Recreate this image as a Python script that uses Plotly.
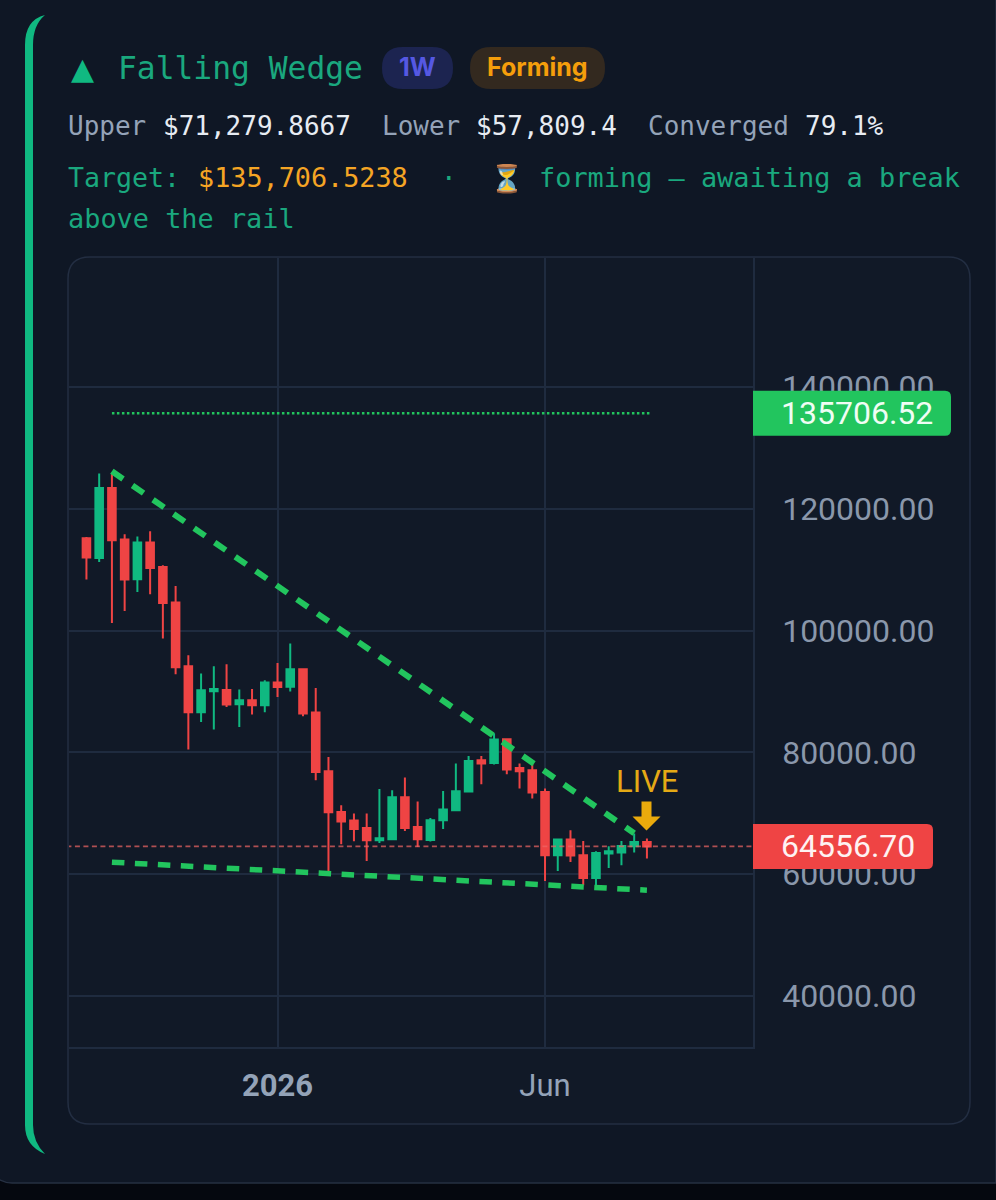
import pandas as pd
import plotly.graph_objects as go

# ---- data ----
dates = pd.date_range("2025-09-22", periods=45, freq="7D")
opens = [115170,111940,123430,114960,108440,114470,110460,104610,94150,86600,90050,90260,87910,88570,87750,91480,
         90800,93660,86550,76910,70230,68820,67600,65580,65750,72640,67770,65630,68870,70510,73580,78720,78280,82170,
         77450,77080,73510,63120,65700,63120,59390,63400,63560,64600,65300]
highs = [115385,125800,125800,115830,115450,116320,110740,107340,95960,92950,94150,94480,90330,90430,91850,94700,
         97880,93700,90590,79260,71330,69970,69970,74010,73790,75880,71940,69240,73680,78180,79420,79420,83150,82330,
         78180,78230,74070,65800,67220,65470,63780,64600,65470,66680,65860]
lows = [108390,111280,101260,103230,106350,105980,98700,92840,80480,85010,83760,87470,84190,86220,86600,89110,
        90000,85940,75430,60380,64930,65420,62180,65140,65580,67110,64480,65370,67440,70390,73510,74780,78010,76420,
        74070,72430,58900,60540,62020,58190,57650,61030,61480,63560,62580]
closes = [112000,123430,114840,108390,114470,110290,104550,93990,86600,90210,90430,87860,88570,87750,91480,90750,
          93660,86390,76800,70180,68650,67440,65580,65910,72640,67600,65750,68870,70620,73630,78600,78180,82120,77190,
          76910,73420,63120,65700,63070,59390,63500,63780,64650,65300,64556.7]

wedge_upper_x = ["2025-10-06", "2026-07-20"]
wedge_upper_y = [126170, 66730]
wedge_lower_x = ["2025-10-06", "2026-07-27"]
wedge_lower_y = [61970, 57370]
target_x = ["2025-10-06", "2026-07-29"]
target_y = [135706.52, 135706.52]
last_price = 64556.70

y_ticks = [40000, 60000, 80000, 100000, 120000, 140000]
y_labels = ["40000.00", "60000.00", "80000.00", "100000.00", "120000.00", "140000.00"]
x_ticks = ["2026-01-05", "2026-06-01"]
x_labels = ["<b>2026</b>", "Jun"]

# ---- style ----
W, H = 996, 1200
L, R, T, B = 69, 753, 258, 1047
CARD, BOX, PAGE = "#0f1725", "#111927", "#05080f"
GRID = "#1f2b3f"
EDGE = "#232e42"
UP, DOWN = "#10b981", "#ef4444"
LINE_GREEN = "#22c55e"
MONO = "DejaVu Sans Mono"


def px(x):
    return (x - L) / (R - L)


def py(y):
    return (B - y) / (B - T)


def path(cmds):
    out = []
    for c in cmds:
        if len(c) == 1:
            out.append(c[0])
        else:
            pts = [f"{px(c[i]):.5f},{py(c[i + 1]):.5f}" for i in range(1, len(c), 2)]
            out.append(c[0] + " ".join(pts))
    return " ".join(out)


def shape(cmds, fill, line=None, lw=0, layer="below"):
    return dict(type="path", xref="paper", yref="paper", path=path(cmds), fillcolor=fill,
                line=dict(color=line or "rgba(0,0,0,0)", width=lw), layer=layer)


def text(x, y, s, color, size, font=MONO, anchor="left"):
    return dict(xref="paper", yref="paper", x=px(x), y=py(y), text=s, showarrow=False, xanchor=anchor,
                yanchor="middle", align="left", font=dict(family=font, size=size, color=color),
                borderpad=0, borderwidth=0)


def pill(x0, x1, y0, y1, fill):
    r = (y1 - y0) / 2
    return shape([("M", x0 + r, y0), ("L", x1 - r, y0), ("Q", x1, y0, x1, y0 + r), ("Q", x1, y1, x1 - r, y1),
                  ("L", x0 + r, y1), ("Q", x0, y1, x0, y0 + r), ("Q", x0, y0, x0 + r, y0), ("Z",)], fill)


def tag(value, width, half, fill):
    r = 6
    return dict(type="path", xref="paper", yref="y", xsizemode="pixel", ysizemode="pixel", xanchor=1, yanchor=value,
                path=f"M0,{-half} L{width - r},{-half} Q{width},{-half} {width},{-half + r} "
                     f"L{width},{half - r} Q{width},{half} {width - r},{half} L0,{half} Z",
                fillcolor=fill, line=dict(width=0), layer="above")


fig = go.Figure()
fig.add_trace(go.Candlestick(x=dates, open=opens, high=highs, low=lows, close=closes, whiskerwidth=0,
                             increasing=dict(line=dict(color=UP, width=2), fillcolor=UP),
                             decreasing=dict(line=dict(color=DOWN, width=2), fillcolor=DOWN)))
fig.add_trace(go.Scatter(x=target_x, y=target_y, mode="lines",
                         line=dict(color=LINE_GREEN, width=2.5, dash="2.5px,2.5px")))
fig.add_trace(go.Scatter(x=wedge_upper_x, y=wedge_upper_y, mode="lines",
                         line=dict(color=LINE_GREEN, width=6, dash="13.5px,11.5px")))
fig.add_trace(go.Scatter(x=wedge_lower_x, y=wedge_lower_y, mode="lines",
                         line=dict(color=LINE_GREEN, width=5.5, dash="12.5px,10.5px")))
fig.add_trace(go.Scatter(x=[dates[0] - pd.Timedelta(days=11), "2026-09-23 07:00"], y=[last_price, last_price],
                         mode="lines", line=dict(color="rgba(239,100,100,0.72)", width=1.8, dash="5px,3.5px")))

shapes = [
    # card and page band
    shape([("M", 0, -20), ("L", 996, -20), ("L", 996, 1183), ("L", 12, 1183), ("Q", 0, 1183, -10, 1172),
           ("L", -10, -20), ("Z",)], CARD, "#263042", 1.5),
    # accent bar
    shape([("M", 45, 15), ("Q", 25, 20, 25, 45), ("L", 25, 1125), ("Q", 25, 1146, 45, 1154),
           ("Q", 33, 1142, 33, 1125), ("L", 33, 45), ("Q", 33, 25, 45, 15), ("Z",)], UP),
    # chart box
    shape([("M", 90, 257), ("L", 948, 257), ("Q", 970, 257, 970, 279), ("L", 970, 1102), ("Q", 970, 1124, 948, 1124),
           ("L", 90, 1124), ("Q", 68, 1124, 68, 1102), ("L", 68, 279), ("Q", 68, 257, 90, 257), ("Z",)],
          BOX, EDGE, 1.5),
    pill(382, 453, 47, 89, "#1c2450"),
    pill(470, 605, 47, 89, "#33291f"),
    tag(135706.52, 198, 22.5, LINE_GREEN),
    tag(last_price, 180, 22.5, DOWN),
    # LIVE arrow
    shape([("M", 641.5, 801.5), ("L", 651.5, 801.5), ("L", 651.5, 816.5), ("L", 660.5, 816.5), ("L", 646.5, 830.5),
           ("L", 632.5, 816.5), ("L", 641.5, 816.5), ("Z",)], "#eaaa0c", layer="above"),
]

GREY, WHITE, TEAL, AMBER = "#94a3b8", "#e7ecf3", "#1aa87e", "#f5a524"
annotations = [
    text(71, 68, "▲", UP, 30, "DejaVu Sans"),
    text(118, 68, "Falling Wedge", TEAL, 31.3),
    text(417.5, 67, "<b>1W</b>", "#5558e3", 25, "Inter", "center"),
    text(537.5, 67, "<b>Forming</b>", "#f59e0b", 25, "Inter", "center"),
    text(68, 126, "Upper", GREY, 26),
    text(163, 126, "$71,279.8667", WHITE, 26),
    text(382, 126, "Lower", GREY, 26),
    text(476, 126, "$57,809.4", WHITE, 26),
    text(648, 126, "Converged", GREY, 26),
    text(805, 126, "79.1%", WHITE, 26),
    text(68, 178, "Target:", TEAL, 26.6),
    text(198, 178, "$135,706.5238", AMBER, 26.8),
    text(449, 178, "·", TEAL, 26, MONO, "center"),
    text(490, 178, "⏳", "#d9c9a8", 27, "Noto Sans, DejaVu Sans"),
    text(539, 178, "forming — awaiting a break", TEAL, 26.9),
    text(68, 218, "above the rail", TEAL, 26.9),
    text(647, 781, "LIVE", "#e5a915", 31, "Roboto", "center"),
    dict(xref="paper", yref="y", x=px(857), y=135706.52, text="135706.52", showarrow=False, xanchor="center",
         yanchor="middle", font=dict(family="Roboto", size=32, color="#f0fdf4")),
    dict(xref="paper", yref="y", x=px(848), y=last_price, text="64556.70", showarrow=False, xanchor="center",
         yanchor="middle", font=dict(family="Roboto", size=32, color="#fef2f2")),
]

fig.update_layout(
    width=W, height=H, margin=dict(l=L, r=W - R, t=T, b=H - B, pad=0, autoexpand=False),
    paper_bgcolor=PAGE, plot_bgcolor="rgba(0,0,0,0)", showlegend=False, boxgap=0.15, hovermode=False,
    shapes=shapes, annotations=annotations,
    xaxis=dict(type="date", range=["2025-09-12 10:00", "2026-09-23 07:00"], rangeslider=dict(visible=False),
               tickmode="array", tickvals=x_ticks, ticktext=x_labels, showgrid=True, gridcolor=GRID, gridwidth=1.5,
               zeroline=False, showline=True, linecolor=GRID, linewidth=1.5, ticks="outside", ticklen=10,
               tickcolor="rgba(0,0,0,0)", tickfont=dict(family="Roboto", size=31, color="#94a3b8")),
    yaxis=dict(side="right", range=[31626, 161182], tickmode="array", tickvals=y_ticks, ticktext=y_labels,
               showgrid=True, gridcolor=GRID, gridwidth=1.5, zeroline=False, showline=True, linecolor=GRID,
               linewidth=1.5, ticks="outside", ticklen=21, tickcolor="rgba(0,0,0,0)",
               tickfont=dict(family="Roboto", size=32, color="#8a97ab")),
)

fig.write_html("out.html", config=dict(displayModeBar=False),
               post_script="document.body.style.margin='0';document.documentElement.style.background='#05080f';")
